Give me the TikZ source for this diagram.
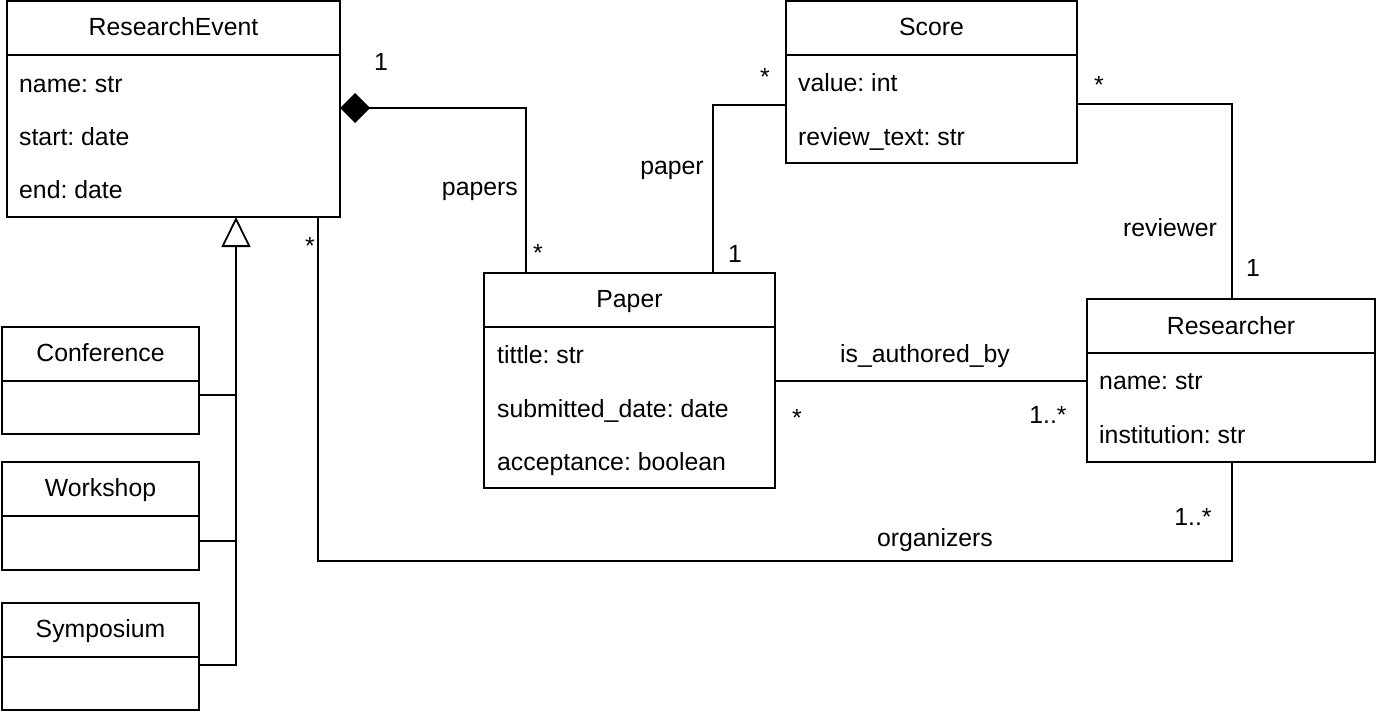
\documentclass[tikz,border=0pt]{standalone}
\usepackage{fontspec}
\setmainfont{Liberation Sans}
\usetikzlibrary{arrows.meta}
\frenchspacing
\begin{document}
\begin{tikzpicture}[x=1pt,y=-1pt,
  font=\fontsize{24.8pt}{30pt}\selectfont\frenchspacing,
  cls/.style={draw, line width=2pt, rectangle, outer sep=0pt, inner sep=0pt, anchor=north west, fill=white},
  ttl/.style={anchor=base, inner sep=0pt},
  attr/.style={anchor=base west, inner sep=0pt},
  lbl/.style={anchor=base, inner sep=0pt},
  conn/.style={line width=1.8pt},
  comp/.style={conn, {Diamond[length=30pt,width=30pt]}-},
  inh/.style={conn, -{Triangle[open,length=30pt,width=29pt,fill=white]}}
]
\useasboundingbox (0,0) rectangle (1379,712);

% classes
\node[cls, minimum width=333, minimum height=216] (re) at (7,1) {};
\node[cls, minimum width=291, minimum height=162] (score) at (786,1) {};
\node[cls, minimum width=291, minimum height=215] (paper) at (484,273) {};
\node[cls, minimum width=288, minimum height=163] (res) at (1087,299) {};
\node[cls, minimum width=197, minimum height=107] (conf) at (2,327) {};
\node[cls, minimum width=197, minimum height=108] (work) at (2,462) {};
\node[cls, minimum width=197, minimum height=107] (sym) at (2,603) {};

% header separators
\draw[line width=2pt] (re.west |- 0,55) -- (re.east |- 0,55);
\draw[line width=2pt] (score.west |- 0,55) -- (score.east |- 0,55);
\draw[line width=2pt] (paper.west |- 0,327) -- (paper.east |- 0,327);
\draw[line width=2pt] (res.west |- 0,353) -- (res.east |- 0,353);
\draw[line width=2pt] (conf.west |- 0,381) -- (conf.east |- 0,381);
\draw[line width=2pt] (work.west |- 0,516) -- (work.east |- 0,516);
\draw[line width=2pt] (sym.west |- 0,657) -- (sym.east |- 0,657);

% titles
\node[ttl] (reT) at (173.5,35) {ResearchEvent};
\node[ttl] (scoreT) at (931.5,35) {Score};
\node[ttl] (paperT) at (629.5,307) {Paper};
\node[ttl] (resT) at (1231,334) {Researcher};
\node[ttl] (confT) at (100.5,361) {Conference};
\node[ttl] (workT) at (100.5,496) {Workshop};
\node[ttl] (symT) at (100.5,637) {Symposium};

% attributes
\node[attr] (reA1) at (19,92) {name: str};
\node[attr] (reA2) at (19,145) {start: date};
\node[attr] (reA3) at (19,198) {end: date};
\node[attr] (scA1) at (798,91) {value: int};
\node[attr] (scA2) at (798,145) {review\_text: str};
\node[attr] (paA1) at (497,363) {tittle: str};
\node[attr] (paA2) at (497,417) {submitted\_date: date};
\node[attr] (paA3) at (497,470) {acceptance: boolean};
\node[attr] (rsA1) at (1099,389) {name: str};
\node[attr] (rsA2) at (1099,443) {institution: str};

% connectors
\draw[comp] (re.east |- 0,108) -| (526,0 |- paper.north);
\draw[conn] (713,0 |- paper.north) |- (score.west |- 0,105);
\draw[conn] (score.east |- 0,104) -| (1232,0 |- res.north);
\draw[conn] (paper.east |- 0,381) -- (res.west |- 0,381);
\draw[conn] (318,0 |- re.south) -- (318,561) -| (1232,0 |- res.south);
\draw[inh] (sym.east |- 0,665) -| (236,0 |- re.south);
\draw[conn] (conf.east |- 0,395) -- (236,395);
\draw[conn] (work.east |- 0,541) -- (236,541);

% labels
\node[lbl] (m1) at (381,70) {1};
\node[anchor=base east, inner sep=0pt] (l1) at (518,195) {papers};
\node[lbl] (m2) at (538,261) {*};
\node[lbl] (m3) at (310,254) {*};
\node[lbl] (m4) at (765,85) {*};
\node[lbl] (l2) at (672,174) {paper};
\node[lbl] (m5) at (735,262) {1};
\node[lbl] (m6) at (1099,93) {*};
\node[lbl] (l3) at (1170,236) {reviewer};
\node[lbl] (m7) at (1253,276) {1};
\node[lbl] (l4) at (925,362) {is\_authored\_by};
\node[lbl] (m8) at (797,426) {*};
\node[lbl] (m9) at (1048,423) {1..*};
\node[lbl] (m10) at (1193,525) {1..*};
\node[lbl] (l5) at (935,546) {organizers};
\end{tikzpicture}
\end{document}
